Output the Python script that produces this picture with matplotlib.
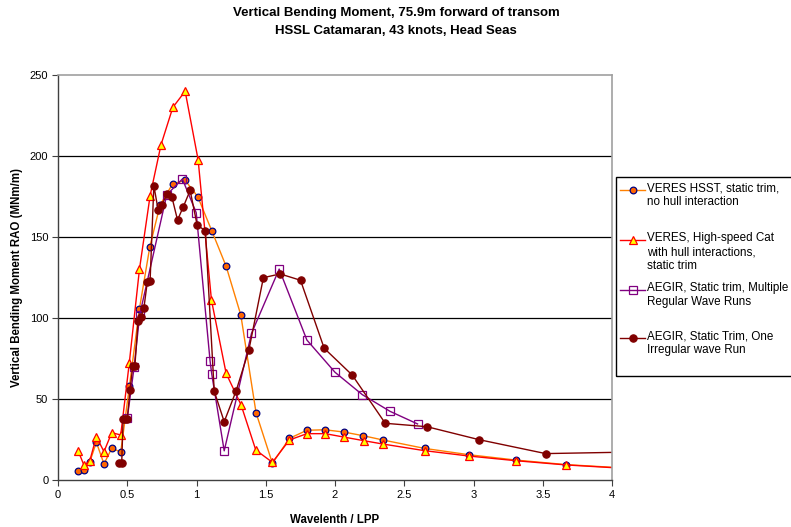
import matplotlib
matplotlib.use("Agg")
import matplotlib.pyplot as plt
from matplotlib.lines import Line2D
from matplotlib.patches import Rectangle

plt.rcParams['font.family'] = ['Liberation Sans', 'DejaVu Sans']

# Wavelength / LPP and vertical bending moment RAO (MNm/m) for each method
veres_hsst_x = [0.147, 0.186, 0.229, 0.277, 0.332, 0.388, 0.453, 0.516, 0.588, 0.663,
                0.737, 0.827, 0.918, 1.009, 1.11, 1.214, 1.32, 1.43, 1.548, 1.671,
                1.797, 1.927, 2.064, 2.2, 2.346, 2.647, 2.967, 3.307, 3.668, 4.05]
veres_hsst_y = [5.7, 6.2, 11.0, 23.3, 9.9, 19.6, 17.3, 58.0, 105.7, 144.0,
                169.8, 182.7, 185.0, 174.9, 153.9, 131.9, 101.8, 41.5, 10.3, 25.7,
                30.7, 31.0, 29.6, 27.4, 24.7, 19.5, 15.6, 12.3, 9.5, 7.6]

veres_cat_x = [0.147, 0.188, 0.229, 0.277, 0.332, 0.388, 0.453, 0.515, 0.588, 0.665,
               0.744, 0.829, 0.918, 1.012, 1.108, 1.214, 1.322, 1.428, 1.548, 1.671,
               1.797, 1.93, 2.064, 2.206, 2.346, 2.647, 2.967, 3.307, 3.668, 4.05]
veres_cat_y = [17.7, 9.0, 11.7, 26.8, 17.5, 29.2, 27.8, 72.5, 130.0, 175.5,
               207.0, 230.0, 240.0, 197.5, 111.0, 65.8, 46.3, 18.5, 10.9, 24.7,
               28.6, 28.6, 26.5, 24.3, 22.2, 18.1, 14.8, 11.9, 9.3, 7.4]

aegir_reg_x = [0.5, 0.55, 0.59, 0.785, 0.898, 0.998, 1.098, 1.11, 1.2, 1.397,
               1.597, 1.797, 2.0, 2.197, 2.397, 2.596]
aegir_reg_y = [38.0, 70.0, 102.0, 176.0, 185.8, 165.0, 73.5, 65.4, 18.0, 90.5,
               130.2, 86.4, 66.5, 52.7, 42.4, 34.6]

aegir_irr_x = [0.44, 0.46, 0.47, 0.485, 0.5, 0.52, 0.54, 0.555, 0.578, 0.6,
               0.62, 0.645, 0.665, 0.692, 0.723, 0.749, 0.787, 0.822, 0.863, 0.905,
               0.954, 1.005, 1.064, 1.128, 1.2, 1.286, 1.378, 1.483, 1.604, 1.751,
               1.922, 2.124, 2.363, 2.664, 3.04, 3.521, 4.3]
aegir_irr_y = [10.5, 10.5, 37.5, 37.5, 37.5, 55.6, 70.4, 70.4, 98.0, 100.8,
               106.0, 122.4, 123.0, 181.7, 166.7, 169.8, 176.4, 174.8, 160.5, 168.7,
               178.8, 157.2, 154.0, 54.8, 36.0, 55.0, 80.2, 124.9, 127.2, 123.3,
               81.3, 64.8, 35.0, 32.9, 24.9, 16.3, 17.5]

labels = [
    "VERES HSST, static trim,\nno hull interaction",
    "VERES, High-speed Cat\nwith hull interactions,\nstatic trim",
    "AEGIR, Static trim, Multiple\nRegular Wave Runs",
    "AEGIR, Static Trim, One\nIrregular wave Run",
]

x_ticks = [0, 0.5, 1, 1.5, 2, 2.5, 3, 3.5, 4]
x_tick_labels = ["0", "0.5", "1", "1.5", "2", "2.5", "3", "3.5", "4"]
y_ticks = [0, 50, 100, 150, 200, 250]

styles = [
    dict(color="#FF8000", lw=1.0, marker="o", ms=4.8, mfc="#FF6600", mec="#000080", mew=0.9),
    dict(color="#FF0000", lw=1.0, marker="^", ms=6.0, mfc="#FFFF00", mec="#FF0000", mew=0.9),
    dict(color="#800080", lw=1.0, marker="s", ms=5.8, mfc="none", mec="#800080", mew=0.9),
    dict(color="#800000", lw=1.0, marker="o", ms=5.3, mfc="#800000", mec="#800000", mew=0.8),
]

W, H = 791, 527
fig = plt.figure(figsize=(W / 100, H / 100), dpi=100)
ax = fig.add_axes([58 / W, 1 - 480 / H, (612 - 58) / W, (480 - 75) / H])

series = [(veres_hsst_x, veres_hsst_y), (veres_cat_x, veres_cat_y),
          (aegir_reg_x, aegir_reg_y), (aegir_irr_x, aegir_irr_y)]
for (xs, ys), st in zip(series, styles):
    ax.plot(xs, ys, **st)

ax.set_xlim(0, 4)
ax.set_ylim(0, 250)
ax.set_xticks(x_ticks)
ax.set_xticklabels(x_tick_labels)
ax.set_yticks(y_ticks)
ax.tick_params(labelsize=8, length=4, width=0.8, color="#404040", pad=3)
for y in y_ticks[1:-1]:
    ax.axhline(y, color="black", lw=0.9, zorder=0.5)
for side in ["top", "right"]:
    ax.spines[side].set_color("#A0A0A0")
    ax.spines[side].set_linewidth(1.2)
for side in ["left", "bottom"]:
    ax.spines[side].set_color("#404040")
    ax.spines[side].set_linewidth(1.0)

ax.set_xlabel("Wavelenth / LPP", fontsize=8.3, fontweight="bold", labelpad=10)
ax.set_ylabel("Vertical Bending Moment RAO (MNm/m)", fontsize=8.3, fontweight="bold", labelpad=5)

fig.text(396 / W, 1 - 13 / H, "Vertical Bending Moment, 75.9m forward of transom",
         ha="center", va="center", fontsize=9.5, fontweight="bold")
fig.text(396 / W, 1 - 31 / H, "HSSL Catamaran, 43 knots, Head Seas",
         ha="center", va="center", fontsize=9.5, fontweight="bold")

# Legend drawn in figure pixel coordinates
def fx(px):
    return px / W

def fy(py):
    return 1 - py / H

fig.add_artist(Rectangle((fx(616), fy(376)), fx(800) - fx(616), fy(177) - fy(376),
                         transform=fig.transFigure, fill=False, ec="black", lw=1.0))
entry_y = [190, 240, 290, 338]
for lab, st, yy in zip(labels, styles, entry_y):
    fig.add_artist(Line2D([fx(620), fx(645)], [fy(yy), fy(yy)], transform=fig.transFigure,
                          color=st["color"], lw=st["lw"]))
    fig.add_artist(Line2D([fx(632.5)], [fy(yy)], transform=fig.transFigure, ls="none",
                          marker=st["marker"], ms=st["ms"], mfc=st["mfc"], mec=st["mec"],
                          mew=st["mew"]))
    fig.text(fx(647), fy(yy - 7.5), lab, ha="left", va="top", fontsize=8.4,
             linespacing=1.17, transform=fig.transFigure)

fig.savefig("out.png", dpi=100)
